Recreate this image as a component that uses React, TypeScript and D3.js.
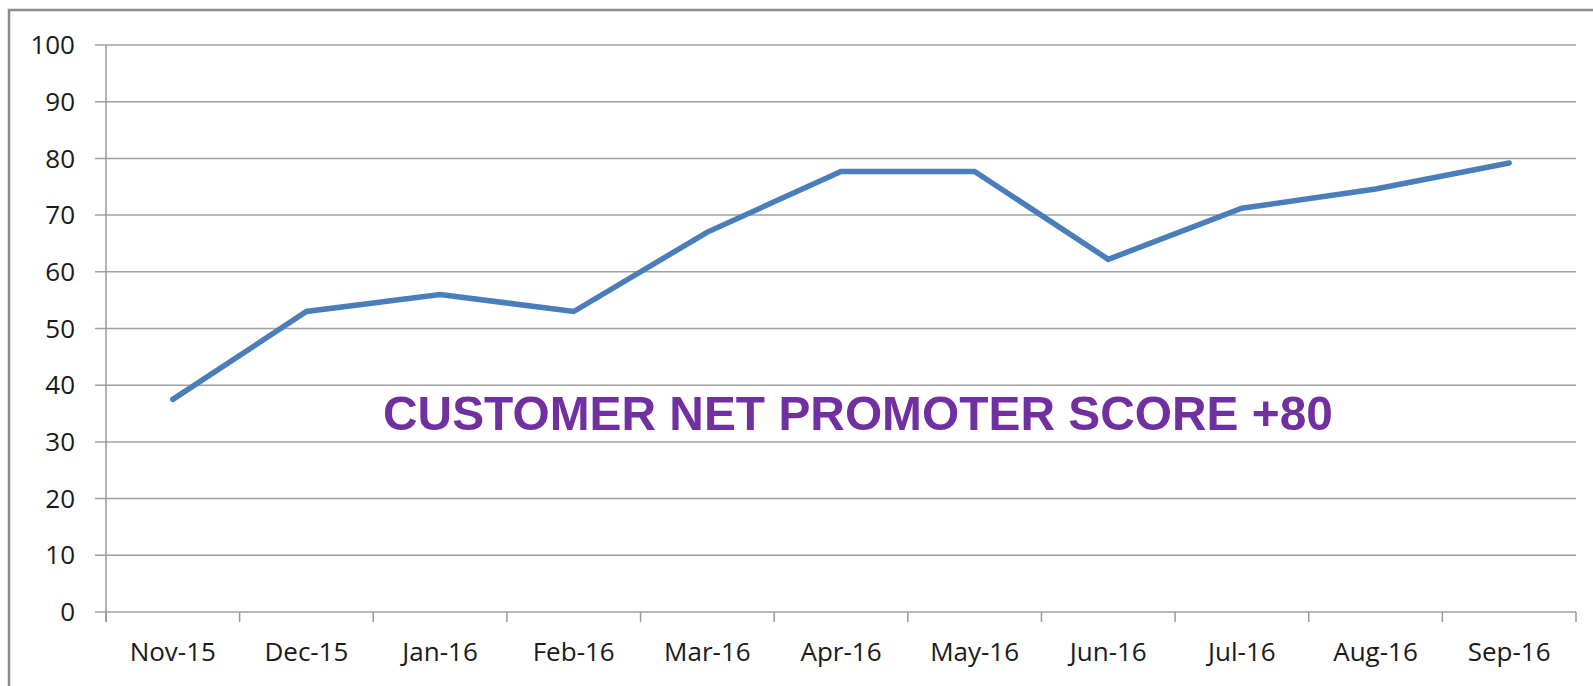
import React from "react";
import * as d3 from "d3";

const categories = ["Nov-15", "Dec-15", "Jan-16", "Feb-16", "Mar-16", "Apr-16", "May-16", "Jun-16", "Jul-16", "Aug-16", "Sep-16"];
const scores = [37.5, 53.0, 56.0, 53.0, 67.0, 77.7, 77.7, 62.2, 71.2, 74.6, 79.2];
const yTicks = [0, 10, 20, 30, 40, 50, 60, 70, 80, 90, 100];
const title = "CUSTOMER NET PROMOTER SCORE +80";

export default function App() {
  const W = 1593, H = 686;
  const left = 106, right = 1576, top = 45, bottom = 612;
  const x = d3.scaleBand<string>().domain(categories).range([left, right]).paddingInner(0).paddingOuter(0);
  const y = d3.scaleLinear().domain([0, 100]).range([bottom, top]);
  const line = d3.line<number>()
    .x((_, i) => (x(categories[i]) as number) + x.bandwidth() / 2)
    .y((d) => y(d));
  const font = "'Open Sans', 'Noto Sans', sans-serif";
  const tickXs = categories.map((c) => x(c) as number).concat([right]);
  return (
    <svg width={W} height={H} style={{ position: "absolute", left: 0, top: 0, background: "#fff" }}>
      <rect x={0} y={0} width={W} height={H} fill="#fff" />
      <rect x={9} y={10} width={W + 20} height={H + 20} fill="none" stroke="#8a8a8a" strokeWidth={2.5} />
      {yTicks.map((t) => (
        <g key={t}>
          <line x1={95} x2={right} y1={y(t)} y2={y(t)} stroke="#a0a0a0" strokeWidth={1.5} />
          <text x={75} y={y(t)} dy="0.35em" textAnchor="end" fontFamily={font} fontSize={26} fill="#1a1a1a">{t}</text>
        </g>
      ))}
      <line x1={left} x2={left} y1={top} y2={bottom + 10} stroke="#999" strokeWidth={1.5} />
      {tickXs.map((tx, i) => (
        <line key={i} x1={tx} x2={tx} y1={bottom} y2={bottom + 10} stroke="#999" strokeWidth={1.5} />
      ))}
      {categories.map((c) => (
        <text key={c} x={(x(c) as number) + x.bandwidth() / 2} y={661} textAnchor="middle" fontFamily={font} fontSize={26} fill="#1a1a1a">{c}</text>
      ))}
      <path d={line(scores) || ""} fill="none" stroke="#4a7ebb" strokeWidth={5.5} strokeLinecap="round" strokeLinejoin="miter" />
      <text x={383} y={430} fontFamily="'Liberation Sans', Arial, sans-serif" fontWeight="bold" fontSize={49} fill="#7030A0" textLength={950} lengthAdjust="spacingAndGlyphs">{title}</text>
    </svg>
  );
}
